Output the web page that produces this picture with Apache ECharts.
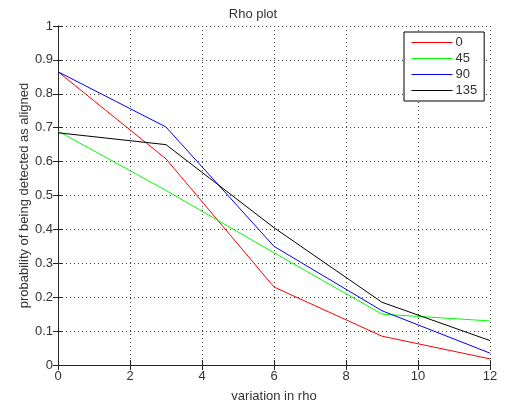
<!DOCTYPE html>
<html>
<head>
<meta charset="utf-8">
<script src="https://cdn.jsdelivr.net/npm/echarts@6/dist/echarts.min.js"></script>
<style>html,body{margin:0;padding:0;background:#fff}#c{width:506px;height:408px}</style>
</head>
<body>
<div id="c"></div>
<script>
var xValues = [0, 3, 6, 9, 12];
var seriesNames = ['0', '45', '90', '135'];
var s0 = [0.865, 0.608, 0.230, 0.085, 0.018];
var s45 = [0.690, 0.515, 0.331, 0.150, 0.130];
var s90 = [0.865, 0.702, 0.350, 0.160, 0.035];
var s135 = [0.685, 0.650, 0.405, 0.185, 0.072];
var colors = ['#ff0000', '#00ff00', '#0000ff', '#000000'];
var title = 'Rho plot';
var xName = 'variation in rho';
var yName = 'probability of being detected as aligned';

var allSeries = [s0, s45, s90, s135];
var font = 'Liberation Sans, Arial, Helvetica, sans-serif';
var txt = '#333333';
var axc = '#262626';
function pairs(v){ return xValues.map(function(x,i){ return [x, v[i]]; }); }

var chart = echarts.init(document.getElementById('c'), null, {renderer:'canvas'});
var axisLine = {show:true, lineStyle:{color:axc, width:1}};
var gridLine = {show:true, lineStyle:{color:'#404040', type:[1,3], width:1}};
chart.setOption({
  backgroundColor:'#ffffff',
  animation:false,
  title:{text:title, left:'center', top:3, textStyle:{fontFamily:font, fontSize:13, fontWeight:'normal', color:txt}},
  grid:{left:58, right:16, top:26, bottom:42},
  legend:{
    orient:'vertical', left:404, top:32,
    data:seriesNames,
    itemWidth:41, itemHeight:14, itemGap:3,
    padding:[4,7,4,7],
    borderColor:'#000', borderWidth:1, backgroundColor:'#fff',
    textStyle:{fontFamily:font, fontSize:13, color:txt, padding:[0,0,0,-2]},
    itemStyle:{opacity:0},
    lineStyle:{width:1},
    selectedMode:false
  },
  xAxis:[{
    type:'value', min:0, max:12, interval:2,
    name:xName, nameLocation:'middle', nameGap:25, nameMoveOverlap:false,
    nameTextStyle:{fontFamily:font, fontSize:13, color:txt},
    axisLine:axisLine, axisTick:{show:true, inside:true, length:5, lineStyle:{color:axc}},
    axisLabel:{fontFamily:font, fontSize:13, color:txt, margin:5},
    splitLine:gridLine
  },{
    type:'value', min:0, max:12, interval:2, position:'top',
    axisLine:axisLine, axisTick:{show:true, inside:true, length:5, lineStyle:{color:axc}},
    axisLabel:{show:false}, splitLine:{show:false}
  }],
  yAxis:[{
    type:'value', min:0, max:1, interval:0.1,
    name:yName, nameLocation:'middle', nameGap:27, nameMoveOverlap:false,
    nameTextStyle:{fontFamily:font, fontSize:13, color:txt},
    axisLine:axisLine, axisTick:{show:true, inside:true, length:5, lineStyle:{color:axc}},
    axisLabel:{fontFamily:font, fontSize:13, color:txt, margin:5, formatter:function(v){return String(Math.round(v*10)/10);}},
    splitLine:gridLine
  },{
    type:'value', min:0, max:1, interval:0.1, position:'right',
    axisLine:axisLine, axisTick:{show:true, inside:true, length:5, lineStyle:{color:axc}},
    axisLabel:{show:false}, splitLine:{show:false}
  }],
  series: seriesNames.map(function(n,i){
    return {name:n, type:'line', data:pairs(allSeries[i]), showSymbol:false, symbol:'none',
      lineStyle:{color:colors[i], width:1}, itemStyle:{color:colors[i]}, z:3};
  })
});
</script>
</body>
</html>
